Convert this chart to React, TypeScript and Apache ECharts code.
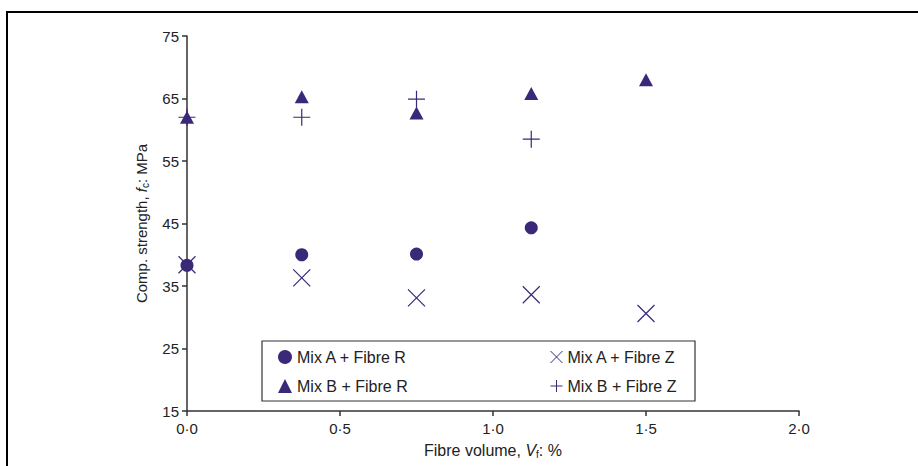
import React, { useEffect, useRef } from "react";
import * as echarts from "echarts";

// Fibre volume (%) for each measurement
const volA_R = [0, 0.375, 0.75, 1.125];
const strengthA_R = [38.3, 40.0, 40.1, 44.3];

const volA_Z = [0, 0.375, 0.75, 1.125, 1.5];
const strengthA_Z = [38.4, 36.3, 33.1, 33.6, 30.6];

const volB_R = [0, 0.375, 0.75, 1.125, 1.5];
const strengthB_R = [62.0, 65.3, 62.7, 65.8, 68.0];

const volB_Z = [0, 0.375, 0.75, 1.125];
const strengthB_Z = [62.0, 62.0, 64.9, 58.5];

const xTicks = [0, 0.5, 1.0, 1.5, 2.0];
const yTicks = [15, 25, 35, 45, 55, 65, 75];

const seriesNames = [
  "Mix A + Fibre R",
  "Mix B + Fibre R",
  "Mix A + Fibre Z",
  "Mix B + Fibre Z",
];

const INK = "#3a2878";
const TEXT = "#222222";
const FONT = "'Liberation Sans', Arial, Helvetica, sans-serif";
const FS = 15;
const LEGEND_FS = 16;

const CROSS = "path://M0,0L20,20M20,0L0,20";
const PLUS = "path://M10,0L10,20M0,10L20,10";

const pairs = (xs: number[], ys: number[]) => xs.map((x, i) => [x, ys[i]]);

export default function App() {
  const ref = useRef<HTMLDivElement>(null);

  useEffect(() => {
    document.body.style.margin = "0";
    if (!ref.current) return;
    const chart = echarts.init(ref.current, null, { renderer: "svg" });

    const filled = { color: INK, opacity: 1 };
    const stroked = {
      color: "rgba(0,0,0,0)",
      borderColor: INK,
      borderWidth: 1.2,
      opacity: 1,
    };

    const nameStyle = (size: number) => ({
      color: TEXT,
      fontSize: size,
      fontFamily: FONT,
      rich: {
        i: { fontStyle: "italic", fontSize: size, color: TEXT, fontFamily: FONT },
        sub: { fontSize: 10, color: TEXT, fontFamily: FONT, padding: [7, 0, 0, 0] },
      },
    });

    const legendBase = {
      orient: "vertical",
      top: 349,
      padding: 0,
      itemGap: 13,
      selectedMode: false,
      textStyle: { color: TEXT, fontSize: LEGEND_FS, fontFamily: FONT },
    };

    chart.setOption({
      animation: false,
      backgroundColor: "#ffffff",
      textStyle: { fontFamily: FONT },
      grid: { left: 187, right: 119, top: 36, bottom: 55 },
      xAxis: {
        type: "value",
        min: xTicks[0],
        max: xTicks[xTicks.length - 1],
        interval: 0.5,
        name: "Fibre volume, {i|V}{sub|f}: %",
        nameLocation: "middle",
        nameGap: 31,
        nameTextStyle: nameStyle(16),
        axisLine: { lineStyle: { color: "#333333", width: 1.5 } },
        axisTick: { length: 5, lineStyle: { color: "#333333", width: 1.5 } },
        axisLabel: {
          color: TEXT,
          fontSize: FS,
          margin: 10,
          fontFamily: FONT,
          formatter: (v: number) => v.toFixed(1).replace(".", "\u00b7"),
        },
        splitLine: { show: false },
      },
      yAxis: {
        type: "value",
        min: yTicks[0],
        max: yTicks[yTicks.length - 1],
        interval: 10,
        name: "Comp. strength, {i|f}{sub|c}: MPa",
        nameLocation: "middle",
        nameGap: 37,
        nameTextStyle: nameStyle(15),
        axisLine: { show: true, lineStyle: { color: "#333333", width: 1.5 } },
        axisTick: { show: true, length: 5, lineStyle: { color: "#333333", width: 1.5 } },
        axisLabel: { color: TEXT, fontSize: FS, margin: 8, fontFamily: FONT },
        splitLine: { show: false },
      },
      legend: [
        {
          ...legendBase,
          left: 278,
          itemWidth: 14,
          itemHeight: 14,
          data: [seriesNames[0], seriesNames[1]],
        },
        {
          ...legendBase,
          left: 550,
          itemWidth: 12,
          itemHeight: 14,
          itemStyle: { borderWidth: 1 },
          data: [seriesNames[2], seriesNames[3]],
        },
      ],
      graphic: [
        {
          type: "polyline",
          shape: { points: [[7, 470], [7, 12], [925, 12]] },
          style: { stroke: "#000000", lineWidth: 2, fill: "none" },
          silent: true,
        },
        {
          type: "rect",
          shape: { x: 262, y: 341, width: 433, height: 60 },
          style: { stroke: "#333333", lineWidth: 1.2, fill: "#ffffff" },
          z: 0,
          silent: true,
        },
      ],
      series: [
        {
          name: seriesNames[0],
          type: "scatter",
          symbol: "circle",
          symbolSize: 13,
          clip: false,
          itemStyle: filled,
          data: pairs(volA_R, strengthA_R),
        },
        {
          name: seriesNames[1],
          type: "scatter",
          symbol: "triangle",
          symbolSize: [14, 13],
          clip: false,
          itemStyle: filled,
          data: pairs(volB_R, strengthB_R),
        },
        {
          name: seriesNames[2],
          type: "scatter",
          symbol: CROSS,
          symbolSize: 17,
          clip: false,
          itemStyle: stroked,
          data: pairs(volA_Z, strengthA_Z),
        },
        {
          name: seriesNames[3],
          type: "scatter",
          symbol: PLUS,
          symbolSize: 17,
          clip: false,
          itemStyle: stroked,
          data: pairs(volB_Z, strengthB_Z),
        },
      ],
    });

    return () => chart.dispose();
  }, []);

  return <div ref={ref} style={{ width: 918, height: 466 }} />;
}
